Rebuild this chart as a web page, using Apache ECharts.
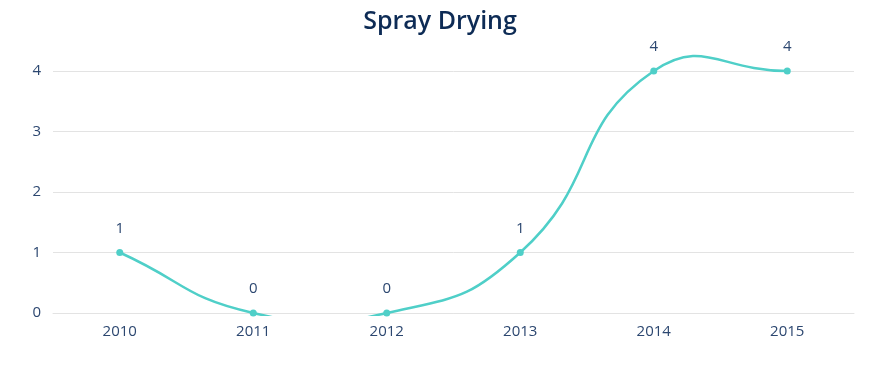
<!DOCTYPE html>
<html>
<head>
<meta charset="utf-8">
<script src="https://cdn.jsdelivr.net/npm/echarts@6/dist/echarts.min.js"></script>
<style>
html,body{margin:0;padding:0;background:#fff;}
#chart{width:880px;height:371px;}
</style>
</head>
<body>
<div id="chart"></div>
<script>
var categories = ['2010', '2011', '2012', '2013', '2014', '2015'];
var values = [1, 0, 0, 1, 4, 4];
var yTicks = [0, 1, 2, 3, 4];
var titleText = 'Spray Drying';

var LINE_COLOR = '#4fcfc8';
var TENSION = 0.5;

function renderSegment(params, api) {
  var i = params.dataIndex;
  var n = values.length;
  if (i >= n - 1) return null;
  var pts = values.map(function (v, k) { return api.coord([k, v]); });
  function cps(k) {
    var cur = pts[k];
    var prev = pts[k > 0 ? k - 1 : k];
    var next = pts[k < n - 1 ? k + 1 : k];
    var d01 = Math.hypot(cur[0] - prev[0], cur[1] - prev[1]);
    var d12 = Math.hypot(next[0] - cur[0], next[1] - cur[1]);
    var sum = d01 + d12;
    var s01 = sum ? d01 / sum : 0;
    var s12 = sum ? d12 / sum : 0;
    var vx = (next[0] - prev[0]) * TENSION;
    var vy = (next[1] - prev[1]) * TENSION;
    return {
      prev: [cur[0] - vx * s01, cur[1] - vy * s01],
      next: [cur[0] + vx * s12, cur[1] + vy * s12]
    };
  }
  var a = pts[i], b = pts[i + 1];
  var ca = cps(i), cb = cps(i + 1);
  var cs = params.coordSys;
  return {
    type: 'group',
    clipPath: {type: 'rect', shape: {x: cs.x, y: cs.y, width: cs.width, height: cs.height + 3}},
    children: [{
      type: 'bezierCurve',
      shape: {
        x1: a[0], y1: a[1], x2: b[0], y2: b[1],
        cpx1: ca.next[0], cpy1: ca.next[1],
        cpx2: cb.prev[0], cpy2: cb.prev[1]
      },
      style: {stroke: LINE_COLOR, lineWidth: 2.5, fill: null}
    }]
  };
}

var chart = echarts.init(document.getElementById('chart'), null, {renderer: 'canvas'});
chart.setOption({
  animation: false,
  backgroundColor: '#ffffff',
  title: {
    text: titleText,
    left: 'center',
    top: 4,
    textStyle: {
      fontFamily: 'Open Sans',
      fontSize: 25,
      fontWeight: 600,
      color: '#0d2b55'
    }
  },
  grid: {
    left: 53,
    right: 26,
    top: 10.5,
    bottom: 58,
    containLabel: false
  },
  xAxis: {
    type: 'category',
    data: categories,
    boundaryGap: true,
    axisLine: {show: true, lineStyle: {color: '#e3e3e3', width: 1}},
    axisTick: {show: false},
    axisLabel: {
      margin: 11,
      fontFamily: 'Open Sans',
      fontSize: 15,
      color: '#2c4770'
    }
  },
  yAxis: {
    type: 'value',
    min: 0,
    max: 5,
    interval: 1,
    axisLine: {show: false},
    axisTick: {show: false},
    axisLabel: {
      margin: 12,
      showMaxLabel: false,
      fontFamily: 'Open Sans',
      fontSize: 15,
      color: '#2c4770',
      formatter: function (v) { return yTicks.indexOf(v) >= 0 ? String(v) : ''; }
    },
    splitLine: {
      show: true,
      showMaxLine: false,
      lineStyle: {color: '#e3e3e3', width: 1}
    }
  },
  series: [{
    type: 'custom',
    data: values.map(function (v, k) { return [k, v]; }),
    encode: {x: 0, y: 1},
    renderItem: renderSegment,
    z: 2,
    silent: true
  }, {
    type: 'line',
    data: values,
    smooth: false,
    symbol: 'circle',
    symbolSize: 7,
    itemStyle: {color: LINE_COLOR},
    lineStyle: {color: LINE_COLOR, width: 0, opacity: 0},
    z: 3,
    label: {
      show: true,
      position: 'top',
      distance: 13,
      fontFamily: 'Open Sans',
      fontSize: 15,
      color: '#2c4770'
    }
  }]
});
</script>
</body>
</html>
